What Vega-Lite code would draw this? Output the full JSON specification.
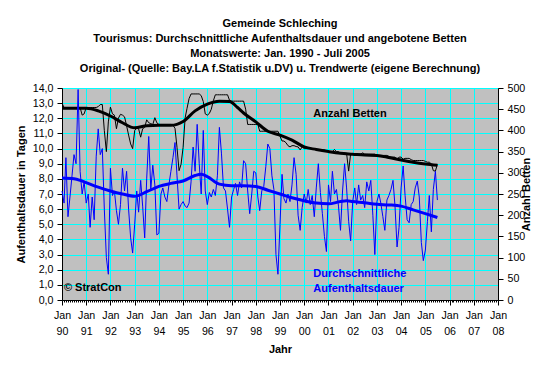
{
"$schema": "https://vega.github.io/schema/vega-lite/v6.json",
"autosize": {"type": "none"},
"width": 436, "height": 212,
"padding": {"left": 62, "top": 88, "right": 62, "bottom": 74},
"background": "white",
"title": {"text": ["Gemeinde Schleching", "Tourismus: Durchschnittliche Aufenthaltsdauer und angebotene Betten", "Monatswerte: Jan. 1990 - Juli 2005", "Original- (Quelle: Bay.LA f.Statistik u.DV) u. Trendwerte (eigene Berechnung)"], "anchor": "middle", "frame": "group", "font": "Liberation Sans", "fontSize": 11, "fontWeight": "bold", "color": "#000000", "lineHeight": 15.2, "offset": 7.7},
"config": {
  "view": {"fill": "#c0c0c0", "stroke": "#808080"},
  "axis": {"labelFont": "Liberation Sans", "titleFont": "Liberation Sans", "labelFontSize": 10.67, "titleFontSize": 11, "titleFontWeight": "bold", "labelColor": "#000000", "titleColor": "#000000", "domainColor": "#000000", "tickColor": "#000000", "gridColor": "#00ffff", "gridOpacity": 1, "gridWidth": 1}
},
"datasets": {
"auf": [
{"date":"1990-01-01","value":7.2},{"date":"1990-02-01","value":6.4},{"date":"1990-03-01","value":9.4},{"date":"1990-04-01","value":5.5},{"date":"1990-05-01","value":6.8},{"date":"1990-06-01","value":8.2},{"date":"1990-07-01","value":9.6},{"date":"1990-08-01","value":9.0},{"date":"1990-09-01","value":13.9},{"date":"1990-10-01","value":8.5},{"date":"1990-11-01","value":7.0},{"date":"1990-12-01","value":7.8},
{"date":"1991-01-01","value":6.4},{"date":"1991-02-01","value":7.0},{"date":"1991-03-01","value":4.8},{"date":"1991-04-01","value":6.8},{"date":"1991-05-01","value":5.3},{"date":"1991-06-01","value":9.5},{"date":"1991-07-01","value":11.3},{"date":"1991-08-01","value":9.6},{"date":"1991-09-01","value":10.0},{"date":"1991-10-01","value":6.0},{"date":"1991-11-01","value":2.8},{"date":"1991-12-01","value":1.7},
{"date":"1992-01-01","value":8.7},{"date":"1992-02-01","value":6.9},{"date":"1992-03-01","value":7.2},{"date":"1992-04-01","value":5.9},{"date":"1992-05-01","value":5.0},{"date":"1992-06-01","value":6.3},{"date":"1992-07-01","value":8.7},{"date":"1992-08-01","value":7.2},{"date":"1992-09-01","value":8.5},{"date":"1992-10-01","value":6.0},{"date":"1992-11-01","value":4.1},{"date":"1992-12-01","value":3.1},
{"date":"1993-01-01","value":5.0},{"date":"1993-02-01","value":7.2},{"date":"1993-03-01","value":5.8},{"date":"1993-04-01","value":7.9},{"date":"1993-05-01","value":6.2},{"date":"1993-06-01","value":4.1},{"date":"1993-07-01","value":8.0},{"date":"1993-08-01","value":10.8},{"date":"1993-09-01","value":7.3},{"date":"1993-10-01","value":8.9},{"date":"1993-11-01","value":7.6},{"date":"1993-12-01","value":4.3},
{"date":"1994-01-01","value":4.4},{"date":"1994-02-01","value":7.0},{"date":"1994-03-01","value":7.4},{"date":"1994-04-01","value":6.8},{"date":"1994-05-01","value":6.5},{"date":"1994-06-01","value":7.6},{"date":"1994-07-01","value":8.5},{"date":"1994-08-01","value":9.4},{"date":"1994-09-01","value":10.4},{"date":"1994-10-01","value":8.2},{"date":"1994-11-01","value":6.0},{"date":"1994-12-01","value":6.3},
{"date":"1995-01-01","value":6.5},{"date":"1995-02-01","value":6.2},{"date":"1995-03-01","value":6.1},{"date":"1995-04-01","value":6.4},{"date":"1995-05-01","value":7.8},{"date":"1995-06-01","value":10.1},{"date":"1995-07-01","value":8.5},{"date":"1995-08-01","value":11.6},{"date":"1995-09-01","value":9.0},{"date":"1995-10-01","value":7.0},{"date":"1995-11-01","value":11.2},{"date":"1995-12-01","value":7.2},
{"date":"1996-01-01","value":6.3},{"date":"1996-02-01","value":7.1},{"date":"1996-03-01","value":6.8},{"date":"1996-04-01","value":7.3},{"date":"1996-05-01","value":6.9},{"date":"1996-06-01","value":8.2},{"date":"1996-07-01","value":11.4},{"date":"1996-08-01","value":9.7},{"date":"1996-09-01","value":7.4},{"date":"1996-10-01","value":7.2},{"date":"1996-11-01","value":6.0},{"date":"1996-12-01","value":4.8},
{"date":"1997-01-01","value":6.8},{"date":"1997-02-01","value":7.3},{"date":"1997-03-01","value":7.7},{"date":"1997-04-01","value":6.9},{"date":"1997-05-01","value":7.8},{"date":"1997-06-01","value":7.4},{"date":"1997-07-01","value":9.2},{"date":"1997-08-01","value":9.0},{"date":"1997-09-01","value":7.2},{"date":"1997-10-01","value":5.7},{"date":"1997-11-01","value":7.0},{"date":"1997-12-01","value":8.5},
{"date":"1998-01-01","value":8.4},{"date":"1998-02-01","value":6.8},{"date":"1998-03-01","value":5.9},{"date":"1998-04-01","value":7.2},{"date":"1998-05-01","value":7.5},{"date":"1998-06-01","value":8.8},{"date":"1998-07-01","value":10.3},{"date":"1998-08-01","value":10.0},{"date":"1998-09-01","value":8.2},{"date":"1998-10-01","value":7.3},{"date":"1998-11-01","value":3.0},{"date":"1998-12-01","value":1.7},
{"date":"1999-01-01","value":5.0},{"date":"1999-02-01","value":8.3},{"date":"1999-03-01","value":6.7},{"date":"1999-04-01","value":6.4},{"date":"1999-05-01","value":7.0},{"date":"1999-06-01","value":6.5},{"date":"1999-07-01","value":7.6},{"date":"1999-08-01","value":9.4},{"date":"1999-09-01","value":8.3},{"date":"1999-10-01","value":5.6},{"date":"1999-11-01","value":4.6},{"date":"1999-12-01","value":6.1},
{"date":"2000-01-01","value":7.0},{"date":"2000-02-01","value":6.4},{"date":"2000-03-01","value":7.3},{"date":"2000-04-01","value":6.3},{"date":"2000-05-01","value":6.9},{"date":"2000-06-01","value":5.5},{"date":"2000-07-01","value":7.4},{"date":"2000-08-01","value":9.0},{"date":"2000-09-01","value":7.1},{"date":"2000-10-01","value":5.7},{"date":"2000-11-01","value":4.2},{"date":"2000-12-01","value":3.2},
{"date":"2001-01-01","value":7.6},{"date":"2001-02-01","value":6.5},{"date":"2001-03-01","value":8.5},{"date":"2001-04-01","value":7.0},{"date":"2001-05-01","value":7.3},{"date":"2001-06-01","value":6.2},{"date":"2001-07-01","value":4.6},{"date":"2001-08-01","value":7.2},{"date":"2001-09-01","value":9.0},{"date":"2001-10-01","value":7.4},{"date":"2001-11-01","value":5.2},{"date":"2001-12-01","value":3.9},
{"date":"2002-01-01","value":6.5},{"date":"2002-02-01","value":7.4},{"date":"2002-03-01","value":6.3},{"date":"2002-04-01","value":7.6},{"date":"2002-05-01","value":6.6},{"date":"2002-06-01","value":6.9},{"date":"2002-07-01","value":6.1},{"date":"2002-08-01","value":7.8},{"date":"2002-09-01","value":7.2},{"date":"2002-10-01","value":7.9},{"date":"2002-11-01","value":5.6},{"date":"2002-12-01","value":3.0},
{"date":"2003-01-01","value":6.5},{"date":"2003-02-01","value":7.0},{"date":"2003-03-01","value":6.4},{"date":"2003-04-01","value":5.5},{"date":"2003-05-01","value":4.6},{"date":"2003-06-01","value":6.6},{"date":"2003-07-01","value":6.9},{"date":"2003-08-01","value":7.3},{"date":"2003-09-01","value":7.9},{"date":"2003-10-01","value":6.2},{"date":"2003-11-01","value":3.5},{"date":"2003-12-01","value":4.8},
{"date":"2004-01-01","value":7.4},{"date":"2004-02-01","value":8.85},{"date":"2004-03-01","value":6.9},{"date":"2004-04-01","value":5.3},{"date":"2004-05-01","value":5.1},{"date":"2004-06-01","value":6.3},{"date":"2004-07-01","value":6.5},{"date":"2004-08-01","value":7.4},{"date":"2004-09-01","value":7.85},{"date":"2004-10-01","value":6.8},{"date":"2004-11-01","value":3.8},{"date":"2004-12-01","value":2.6},
{"date":"2005-01-01","value":3.3},{"date":"2005-02-01","value":5.2},{"date":"2005-03-01","value":6.9},{"date":"2005-04-01","value":4.5},{"date":"2005-05-01","value":7.3},{"date":"2005-06-01","value":8.5},{"date":"2005-07-01","value":6.6}
],
"bet": [
{"date":"1990-01-01","value":464},{"date":"1990-02-01","value":454},{"date":"1990-03-01","value":454},{"date":"1990-04-01","value":454},{"date":"1990-05-01","value":454},{"date":"1990-06-01","value":454},{"date":"1990-07-01","value":454},{"date":"1990-08-01","value":454},{"date":"1990-09-01","value":454},{"date":"1990-10-01","value":454},{"date":"1990-11-01","value":436},{"date":"1990-12-01","value":439},
{"date":"1991-01-01","value":454},{"date":"1991-02-01","value":454},{"date":"1991-03-01","value":454},{"date":"1991-04-01","value":454},{"date":"1991-05-01","value":454},{"date":"1991-06-01","value":454},{"date":"1991-07-01","value":456},{"date":"1991-08-01","value":461},{"date":"1991-09-01","value":461},{"date":"1991-10-01","value":400},{"date":"1991-11-01","value":350},{"date":"1991-12-01","value":420},
{"date":"1992-01-01","value":455},{"date":"1992-02-01","value":439},{"date":"1992-03-01","value":436},{"date":"1992-04-01","value":404},{"date":"1992-05-01","value":429},{"date":"1992-06-01","value":438},{"date":"1992-07-01","value":436},{"date":"1992-08-01","value":432},{"date":"1992-09-01","value":411},{"date":"1992-10-01","value":389},{"date":"1992-11-01","value":368},{"date":"1992-12-01","value":357},
{"date":"1993-01-01","value":400},{"date":"1993-02-01","value":405},{"date":"1993-03-01","value":404},{"date":"1993-04-01","value":384},{"date":"1993-05-01","value":404},{"date":"1993-06-01","value":407},{"date":"1993-07-01","value":425},{"date":"1993-08-01","value":418},{"date":"1993-09-01","value":416},{"date":"1993-10-01","value":414},{"date":"1993-11-01","value":430},{"date":"1993-12-01","value":418},
{"date":"1994-01-01","value":414},{"date":"1994-02-01","value":414},{"date":"1994-03-01","value":414},{"date":"1994-04-01","value":414},{"date":"1994-05-01","value":414},{"date":"1994-06-01","value":414},{"date":"1994-07-01","value":414},{"date":"1994-08-01","value":412},{"date":"1994-09-01","value":405},{"date":"1994-10-01","value":360},{"date":"1994-11-01","value":305},{"date":"1994-12-01","value":320},
{"date":"1995-01-01","value":360},{"date":"1995-02-01","value":430},{"date":"1995-03-01","value":452},{"date":"1995-04-01","value":475},{"date":"1995-05-01","value":486},{"date":"1995-06-01","value":486},{"date":"1995-07-01","value":486},{"date":"1995-08-01","value":486},{"date":"1995-09-01","value":486},{"date":"1995-10-01","value":482},{"date":"1995-11-01","value":468},{"date":"1995-12-01","value":439},
{"date":"1996-01-01","value":436},{"date":"1996-02-01","value":440},{"date":"1996-03-01","value":450},{"date":"1996-04-01","value":470},{"date":"1996-05-01","value":484},{"date":"1996-06-01","value":484},{"date":"1996-07-01","value":484},{"date":"1996-08-01","value":484},{"date":"1996-09-01","value":484},{"date":"1996-10-01","value":484},{"date":"1996-11-01","value":484},{"date":"1996-12-01","value":471},
{"date":"1997-01-01","value":469},{"date":"1997-02-01","value":469},{"date":"1997-03-01","value":469},{"date":"1997-04-01","value":469},{"date":"1997-05-01","value":469},{"date":"1997-06-01","value":469},{"date":"1997-07-01","value":469},{"date":"1997-08-01","value":450},{"date":"1997-09-01","value":414},{"date":"1997-10-01","value":414},{"date":"1997-11-01","value":414},{"date":"1997-12-01","value":414},
{"date":"1998-01-01","value":414},{"date":"1998-02-01","value":414},{"date":"1998-03-01","value":398},{"date":"1998-04-01","value":398},{"date":"1998-05-01","value":398},{"date":"1998-06-01","value":398},{"date":"1998-07-01","value":398},{"date":"1998-08-01","value":398},{"date":"1998-09-01","value":398},{"date":"1998-10-01","value":398},{"date":"1998-11-01","value":398},{"date":"1998-12-01","value":398},
{"date":"1999-01-01","value":386},{"date":"1999-02-01","value":375},{"date":"1999-03-01","value":375},{"date":"1999-04-01","value":371},{"date":"1999-05-01","value":364},{"date":"1999-06-01","value":361},{"date":"1999-07-01","value":364},{"date":"1999-08-01","value":364},{"date":"1999-09-01","value":362},{"date":"1999-10-01","value":361},{"date":"1999-11-01","value":354},{"date":"1999-12-01","value":361},
{"date":"2000-01-01","value":357},{"date":"2000-02-01","value":357},{"date":"2000-03-01","value":357},{"date":"2000-04-01","value":357},{"date":"2000-05-01","value":357},{"date":"2000-06-01","value":357},{"date":"2000-07-01","value":355},{"date":"2000-08-01","value":354},{"date":"2000-09-01","value":354},{"date":"2000-10-01","value":354},{"date":"2000-11-01","value":354},{"date":"2000-12-01","value":352},
{"date":"2001-01-01","value":350},{"date":"2001-02-01","value":350},{"date":"2001-03-01","value":350},{"date":"2001-04-01","value":355},{"date":"2001-05-01","value":350},{"date":"2001-06-01","value":350},{"date":"2001-07-01","value":346},{"date":"2001-08-01","value":346},{"date":"2001-09-01","value":346},{"date":"2001-10-01","value":346},{"date":"2001-11-01","value":304},{"date":"2001-12-01","value":345},
{"date":"2002-01-01","value":344},{"date":"2002-02-01","value":344},{"date":"2002-03-01","value":344},{"date":"2002-04-01","value":344},{"date":"2002-05-01","value":344},{"date":"2002-06-01","value":347},{"date":"2002-07-01","value":344},{"date":"2002-08-01","value":344},{"date":"2002-09-01","value":344},{"date":"2002-10-01","value":344},{"date":"2002-11-01","value":344},{"date":"2002-12-01","value":344},
{"date":"2003-01-01","value":341},{"date":"2003-02-01","value":341},{"date":"2003-03-01","value":341},{"date":"2003-04-01","value":341},{"date":"2003-05-01","value":341},{"date":"2003-06-01","value":341},{"date":"2003-07-01","value":339},{"date":"2003-08-01","value":337},{"date":"2003-09-01","value":337},{"date":"2003-10-01","value":337},{"date":"2003-11-01","value":332},{"date":"2003-12-01","value":337},
{"date":"2004-01-01","value":337},{"date":"2004-02-01","value":332},{"date":"2004-03-01","value":334},{"date":"2004-04-01","value":334},{"date":"2004-05-01","value":334},{"date":"2004-06-01","value":331},{"date":"2004-07-01","value":329},{"date":"2004-08-01","value":329},{"date":"2004-09-01","value":329},{"date":"2004-10-01","value":329},{"date":"2004-11-01","value":329},{"date":"2004-12-01","value":329},
{"date":"2005-01-01","value":327},{"date":"2005-02-01","value":325},{"date":"2005-03-01","value":325},{"date":"2005-04-01","value":321},{"date":"2005-05-01","value":305},{"date":"2005-06-01","value":304},{"date":"2005-07-01","value":320}
],
"auftrend": [
{"date":"1990-01-01","value":8.05},{"date":"1990-07-01","value":8.0},{"date":"1990-10-01","value":7.9},{"date":"1991-01-01","value":7.75},{"date":"1991-07-01","value":7.45},{"date":"1992-01-01","value":7.2},{"date":"1992-07-01","value":7.0},{"date":"1993-01-01","value":6.85},{"date":"1993-07-01","value":7.15},{"date":"1994-01-01","value":7.5},{"date":"1994-07-01","value":7.7},{"date":"1995-01-01","value":7.86},{"date":"1995-07-01","value":8.22},{"date":"1995-10-01","value":8.3},{"date":"1996-01-01","value":8.15},{"date":"1996-07-01","value":7.65},{"date":"1997-01-01","value":7.55},{"date":"1997-07-01","value":7.55},{"date":"1998-01-01","value":7.5},{"date":"1998-07-01","value":7.25},{"date":"1999-01-01","value":7.0},{"date":"1999-07-01","value":6.75},{"date":"2000-01-01","value":6.55},{"date":"2000-07-01","value":6.4},{"date":"2001-01-01","value":6.35},{"date":"2001-07-01","value":6.5},{"date":"2001-10-01","value":6.55},{"date":"2002-01-01","value":6.5},{"date":"2002-07-01","value":6.42},{"date":"2003-01-01","value":6.32},{"date":"2003-07-01","value":6.28},{"date":"2004-01-01","value":6.2},{"date":"2004-07-01","value":5.95},{"date":"2005-01-01","value":5.7},{"date":"2005-07-01","value":5.45}
],
"bettrend": [
{"date":"1990-01-01","value":452},{"date":"1990-07-01","value":452},{"date":"1991-01-01","value":452},{"date":"1991-07-01","value":446},{"date":"1992-01-01","value":434},{"date":"1992-07-01","value":418},{"date":"1993-01-01","value":406},{"date":"1993-07-01","value":411},{"date":"1994-01-01","value":412},{"date":"1994-07-01","value":412},{"date":"1995-01-01","value":421},{"date":"1995-07-01","value":446},{"date":"1996-01-01","value":462},{"date":"1996-07-01","value":469},{"date":"1996-12-01","value":468},{"date":"1997-04-01","value":454},{"date":"1997-07-01","value":441},{"date":"1998-01-01","value":420},{"date":"1998-07-01","value":398},{"date":"1999-01-01","value":389},{"date":"1999-07-01","value":377},{"date":"2000-01-01","value":361},{"date":"2000-07-01","value":355},{"date":"2001-01-01","value":350},{"date":"2001-07-01","value":346},{"date":"2002-01-01","value":344},{"date":"2002-07-01","value":342},{"date":"2003-01-01","value":341},{"date":"2003-07-01","value":336},{"date":"2004-01-01","value":330},{"date":"2004-07-01","value":325},{"date":"2005-01-01","value":321},{"date":"2005-07-01","value":318}
],
"noteblack": [
{"date":"2000-05-18","value":12.29,"label":"Anzahl Betten"},
{"date":"1990-01-30","value":0.77,"label":"© StratCon"}
],
"noteblue": [
{"date":"2000-05-18","value":1.71,"label":"Durchschnittliche"},
{"date":"2000-05-18","value":0.72,"label":"Aufenthaltsdauer"}
]
},
"encoding": {
  "x": {"field": "date", "type": "temporal",
    "scale": {"type": "utc", "domain": [{"year": 1990, "month": 1, "date": 1, "utc": true}, {"year": 2008, "month": 1, "date": 1, "utc": true}]},
    "axis": {"title": "Jahr", "tickCount": {"interval": "month", "step": 1},
      "labelExpr": "utcmonth(datum.value) == 0 ? ['Jan', utcFormat(datum.value, '%y')] : ''",
      "labelOverlap": false, "labelFlush": false, "labelBound": false,
      "labelPadding": 5, "labelLineHeight": 16, "labelBaseline": "top",
      "tickSize": {"condition": {"test": "utcmonth(datum.value) == 0", "value": 5}, "value": 2},
      "grid": true,
      "gridOpacity": {"condition": {"test": "utcmonth(datum.value) == 0", "value": 1}, "value": 0},
      "titlePadding": 8}
  }
},
"layer": [
  {
    "encoding": {"y": {"field": "value", "type": "quantitative", "scale": {"domain": [0, 500], "nice": false},
      "axis": {"orient": "right", "values": [0,50,100,150,200,250,300,350,400,450,500], "grid": false, "title": "Anzahl Betten", "titleAngle": 270, "tickSize": 5, "labelPadding": 4, "titlePadding": 7}}},
    "layer": [
      {"data": {"name": "bet"}, "mark": {"type": "line", "color": "#000000", "strokeWidth": 1}},
      {"data": {"name": "bettrend"}, "mark": {"type": "line", "color": "#000000", "strokeWidth": 3, "interpolate": "monotone"}}
    ]
  },
  {
    "encoding": {"y": {"field": "value", "type": "quantitative", "scale": {"domain": [0, 14], "nice": false},
      "axis": {"orient": "left", "values": [0,1,2,3,4,5,6,7,8,9,10,11,12,13,14], "grid": true, "title": "Aufenthaltsdauer in Tagen",
        "labelExpr": "replace(format(datum.value, '.1f'), '.', ',')", "tickSize": 5, "labelPadding": 4, "titlePadding": 6}}},
    "layer": [
      {"data": {"name": "auf"}, "mark": {"type": "line", "color": "#0000ff", "strokeWidth": 1}},
      {"data": {"name": "auftrend"}, "mark": {"type": "line", "color": "#0000ff", "strokeWidth": 3, "interpolate": "monotone"}},
      {"data": {"name": "noteblack"}, "mark": {"type": "text", "align": "left", "baseline": "middle", "font": "Liberation Sans", "fontSize": 11, "fontWeight": "bold", "color": "#000000"}, "encoding": {"text": {"field": "label"}}},
      {"data": {"name": "noteblue"}, "mark": {"type": "text", "align": "left", "baseline": "middle", "font": "Liberation Sans", "fontSize": 11, "fontWeight": "bold", "color": "#0000ff"}, "encoding": {"text": {"field": "label"}}}
    ]
  }
],
"resolve": {"scale": {"y": "independent"}}
}
